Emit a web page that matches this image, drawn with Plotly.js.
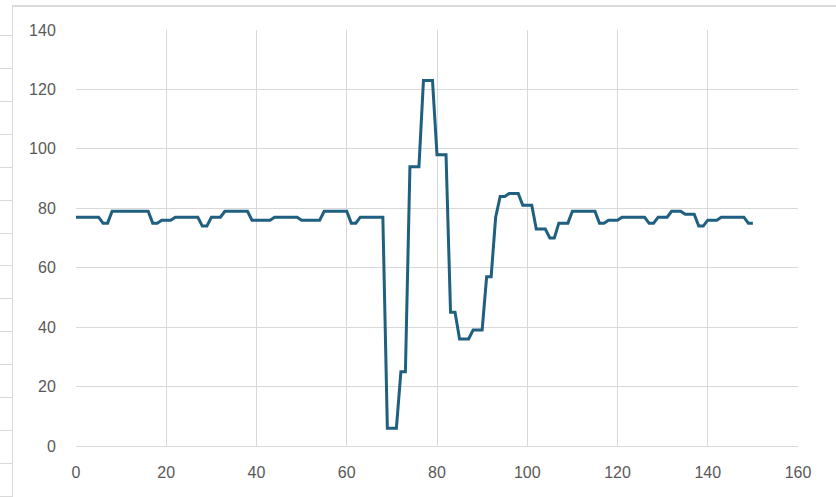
<!DOCTYPE html>
<html>
<head>
<meta charset="utf-8">
<script src="https://cdn.plot.ly/plotly-3.0.1.min.js"></script>
<style>
  html, body { margin: 0; padding: 0; background: #ffffff; }
  #wrap { position: relative; width: 836px; height: 497px; overflow: hidden; }
  #chart { position: absolute; left: 0; top: 0; width: 836px; height: 497px; }
  .frame { position: absolute; background: #d9d9d9; pointer-events: none; }
</style>
</head>
<body>
<div id="wrap">
  <div id="chart"></div>
</div>
<script>
// Data
const xValues = [];
for (let i = 0; i <= 150; i++) xValues.push(i);

const yValues = [
  77, 77, 77, 77, 77, 77, 75, 75, 79, 79,      // 0-9
  79, 79, 79, 79, 79, 79, 79, 75, 75, 76,      // 10-19
  76, 76, 77, 77, 77, 77, 77, 77, 74, 74,      // 20-29
  77, 77, 77, 79, 79, 79, 79, 79, 79, 76,      // 30-39
  76, 76, 76, 76, 77, 77, 77, 77, 77, 77,      // 40-49
  76, 76, 76, 76, 76, 79, 79, 79, 79, 79,      // 50-59
  79, 75, 75, 77, 77, 77, 77, 77, 77, 6,       // 60-69
  6, 6, 25, 25, 94, 94, 94, 123, 123, 123,     // 70-79
  98, 98, 98, 45, 45, 36, 36, 36, 39, 39,      // 80-89
  39, 57, 57, 77, 84, 84, 85, 85, 85, 81,      // 90-99
  81, 81, 73, 73, 73, 70, 70, 75, 75, 75,      // 100-109
  79, 79, 79, 79, 79, 79, 75, 75, 76, 76,      // 110-119
  76, 77, 77, 77, 77, 77, 77, 75, 75, 77,      // 120-129
  77, 77, 79, 79, 79, 78, 78, 78, 74, 74,      // 130-139
  76, 76, 76, 77, 77, 77, 77, 77, 77, 75,      // 140-149
  75                                           // 150
];

const xTickVals = [0, 20, 40, 60, 80, 100, 120, 140, 160];
const yTickVals = [0, 20, 40, 60, 80, 100, 120, 140];

// Decorative frame (spreadsheet-like border around chart)
const wrap = document.getElementById('wrap');
function addFrame(left, top, w, h) {
  const d = document.createElement('div');
  d.className = 'frame';
  d.style.left = left + 'px'; d.style.top = top + 'px';
  d.style.width = w + 'px'; d.style.height = h + 'px';
  wrap.appendChild(d);
}
addFrame(12, 5, 824, 2);   // top border
addFrame(12, 5, 1, 492);   // left border
for (let k = 0; k < 15; k++) {
  addFrame(0, Math.round(35 + 32.92 * k), 12, 1);
}

const trace = {
  x: xValues,
  y: yValues,
  type: 'scatter',
  mode: 'lines',
  line: { color: '#1f5f80', width: 3 },
  hoverinfo: 'skip'
};

const layout = {
  width: 836,
  height: 497,
  margin: { l: 76, r: 38, t: 30, b: 51 },
  paper_bgcolor: 'rgba(0,0,0,0)',
  plot_bgcolor: '#ffffff',
  showlegend: false,
  font: { family: 'Liberation Sans, Arial, sans-serif', size: 16, color: '#595959' },
  xaxis: {
    range: [0, 160],
    tickvals: xTickVals,
    ticktext: xTickVals.map(String),
    showgrid: true,
    gridcolor: '#d9d9d9',
    gridwidth: 1,
    zeroline: false,
    showline: true,
    linecolor: '#d9d9d9',
    linewidth: 1,
    ticks: 'outside',
    ticklen: 12,
    tickcolor: 'rgba(0,0,0,0)',
    tickfont: { size: 16, color: '#595959' },
    mirror: false
  },
  yaxis: {
    range: [0, 140],
    tickvals: yTickVals,
    ticktext: yTickVals.map(String),
    showgrid: true,
    gridcolor: '#d9d9d9',
    gridwidth: 1,
    zeroline: false,
    showline: false,
    ticks: 'outside',
    ticklen: 16,
    tickcolor: 'rgba(0,0,0,0)',
    tickfont: { size: 16, color: '#595959' }
  }
};

Plotly.newPlot('chart', [trace], layout, { displayModeBar: false, staticPlot: true });
</script>
</body>
</html>
